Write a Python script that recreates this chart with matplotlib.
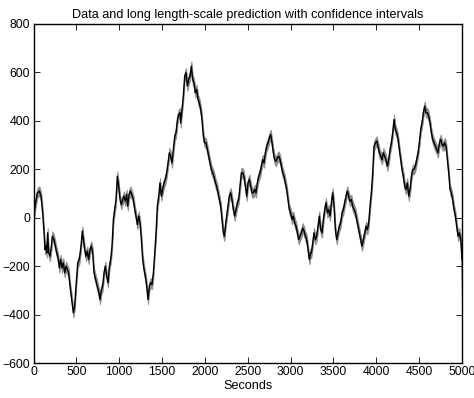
import matplotlib
matplotlib.use("Agg")
import matplotlib.pyplot as plt
import numpy as np

plt.rcParams['font.family'] = ['Liberation Sans', 'DejaVu Sans']

seconds = [0, 6, 18, 45, 68, 88, 107, 123, 134, 146, 154, 165, 177, 193, 204, 220, 239, 263, 290, 302,
           317, 333, 348, 364, 379, 395, 410, 426, 446, 465, 480, 496, 516, 535, 554, 570, 582, 597, 613, 628,
           644, 659, 675, 691, 706, 726, 745, 764, 776, 792, 807, 823, 838, 854, 870, 885, 901, 916, 932, 947,
           963, 978, 994, 1010, 1025, 1041, 1056, 1072, 1087, 1099, 1115, 1130, 1146, 1165, 1181, 1196, 1212, 1227, 1243, 1259,
           1274, 1290, 1305, 1321, 1336, 1352, 1367, 1383, 1399, 1414, 1430, 1445, 1461, 1476, 1492, 1507, 1523, 1539, 1554, 1570,
           1585, 1601, 1616, 1632, 1648, 1663, 1679, 1694, 1710, 1717, 1733, 1748, 1764, 1780, 1795, 1811, 1826, 1842, 1857, 1873,
           1888, 1904, 1920, 1935, 1951, 1966, 1982, 1997, 2013, 2029, 2044, 2060, 2075, 2091, 2106, 2122, 2137, 2153, 2169, 2184,
           2200, 2215, 2227, 2239, 2254, 2270, 2285, 2301, 2316, 2332, 2348, 2363, 2379, 2394, 2410, 2425, 2441, 2456, 2472, 2488,
           2503, 2519, 2534, 2550, 2565, 2581, 2596, 2612, 2628, 2643, 2659, 2674, 2690, 2705, 2721, 2737, 2752, 2768, 2783, 2799,
           2814, 2830, 2845, 2861, 2877, 2892, 2908, 2923, 2939, 2954, 2970, 2985, 3001, 3017, 3032, 3048, 3063, 3079, 3094, 3110,
           3126, 3141, 3157, 3172, 3188, 3203, 3219, 3234, 3242, 3258, 3273, 3289, 3304, 3320, 3335, 3351, 3367, 3382, 3398, 3413,
           3429, 3444, 3460, 3476, 3491, 3507, 3522, 3538, 3553, 3569, 3584, 3600, 3616, 3631, 3647, 3662, 3678, 3693, 3709, 3724,
           3740, 3756, 3771, 3787, 3802, 3818, 3833, 3849, 3865, 3880, 3896, 3911, 3927, 3942, 3958, 3973, 3989, 4005, 4020, 4036,
           4051, 4067, 4082, 4098, 4113, 4129, 4145, 4160, 4176, 4191, 4207, 4222, 4238, 4254, 4269, 4285, 4300, 4316, 4331, 4347,
           4362, 4378, 4394, 4409, 4425, 4440, 4456, 4471, 4487, 4502, 4518, 4534, 4549, 4565, 4580, 4596, 4611, 4627, 4643, 4658,
           4674, 4689, 4705, 4720, 4736, 4751, 4767, 4783, 4798, 4814, 4829, 4845, 4860, 4876, 4891, 4907, 4923, 4938, 4954, 4969,
           4985, 5000]

prediction = [-36, 6, 47, 102, 109, 88, 19, -63, -132, -118, -146, -63, -146, -160, -132, -77, -91, -132, -173, -208,
              -173, -208, -187, -228, -201, -215, -228, -283, -338, -393, -366, -283, -187, -173, -118, -56, -91, -132, -160, -139,
              -173, -132, -118, -146, -228, -256, -283, -311, -338, -297, -283, -228, -201, -242, -269, -201, -173, -118, -8, 33,
              74, 170, 129, 74, 54, 74, 88, 67, 95, 47, 95, 109, 95, 74, 33, 6, -29, 6, -22, -91,
              -173, -215, -242, -283, -338, -283, -269, -276, -228, -146, -63, 47, 88, 143, 88, 116, 143, 157, 184, 225,
              267, 253, 225, 280, 335, 349, 404, 425, 432, 390, 445, 500, 583, 597, 542, 569, 583, 624, 569, 555,
              514, 528, 487, 473, 445, 404, 335, 308, 308, 280, 253, 225, 198, 184, 170, 143, 129, 102, 74, 47,
              -8, -63, -77, -36, 6, 47, 88, 102, 74, 33, 6, 33, 61, 74, 129, 184, 184, 170, 129, 88,
              143, 157, 129, 102, 102, 116, 102, 143, 170, 184, 212, 239, 225, 267, 294, 308, 329, 342, 308, 267,
              239, 232, 246, 253, 239, 212, 184, 170, 143, 116, 74, 33, 19, -8, 6, -22, -36, -63, -91, -77,
              -63, -43, -56, -77, -91, -132, -173, -146, -146, -105, -63, -91, -77, -36, 6, -50, -63, -8, 33, 61,
              19, 33, 6, 61, 102, 47, -50, -91, -63, -36, -22, 19, 33, 61, 88, 109, 88, 67, 74, 47,
              33, 19, -8, -36, -63, -91, -118, -91, -63, -36, -50, -22, 47, 102, 184, 294, 308, 315, 294, 267,
              253, 239, 267, 253, 239, 212, 239, 280, 308, 349, 404, 363, 349, 322, 280, 239, 198, 170, 129, 116,
              143, 88, 116, 170, 198, 198, 212, 239, 267, 308, 363, 390, 432, 459, 432, 432, 418, 390, 349, 322,
              308, 294, 280, 267, 308, 322, 301, 294, 308, 294, 239, 184, 116, 102, 74, 33, 6, -36, -77, -63,
              -91, -173]

ci_half = 20
end_lower = -370

x = np.array(seconds, dtype=float)
y = np.array(prediction, dtype=float)
lower = y - ci_half
upper = y + ci_half
lower[-1] = end_lower

fig = plt.figure(figsize=(4.74, 3.98), dpi=100)
ax = fig.add_axes([0.0707, 0.0879, 0.9040, 0.8530])

ax.fill_between(x, lower, upper, color='#8c8c8c', linewidth=0.6, edgecolor='#8c8c8c')
ax.plot(x, y, color='black', linewidth=1.0)

ax.set_xlim(0, 5000)
ax.set_ylim(-600, 800)
ax.set_xticks(np.arange(0, 5001, 500))
ax.set_yticks(np.arange(-600, 801, 200))
ax.tick_params(direction='in', length=4, width=0.6, top=True, right=True,
               labelsize=8.7, pad=2.5)
for s in ax.spines.values():
    s.set_linewidth(1.0)

ax.set_xlabel('Seconds', fontsize=9.1, labelpad=1)
ax.set_title('Data and long length-scale prediction with confidence intervals', fontsize=9.1, pad=4)

fig.savefig('out.png', dpi=100)
